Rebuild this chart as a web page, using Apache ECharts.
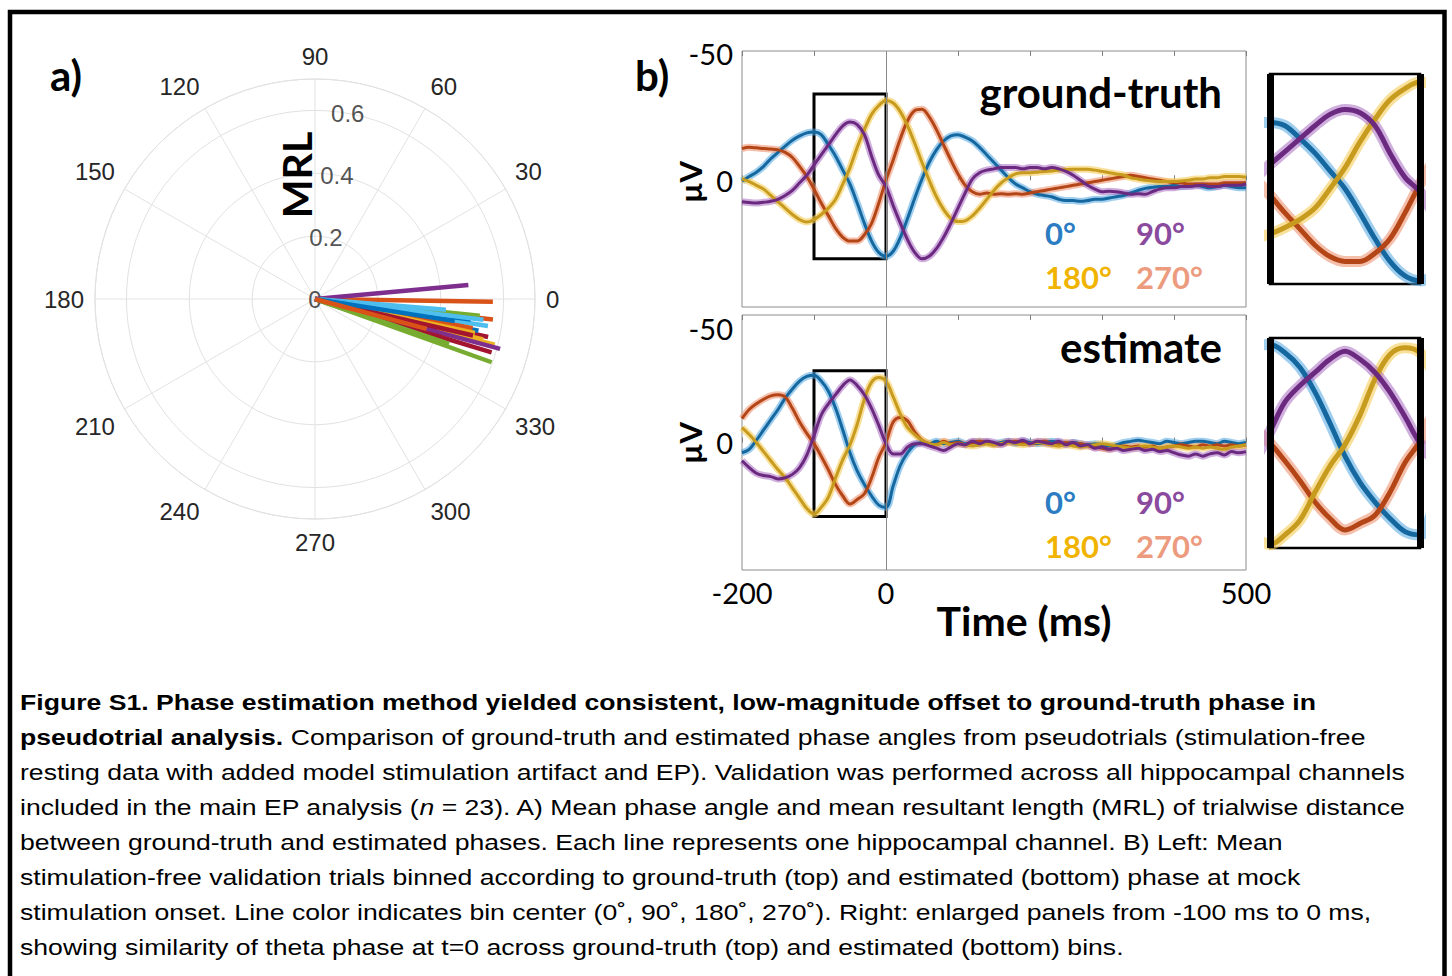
<!DOCTYPE html>
<html><head><meta charset="utf-8">
<script src="https://cdn.jsdelivr.net/npm/echarts@6/dist/echarts.min.js"></script>
<style>html,body{margin:0;padding:0;background:#fff;} #c{width:1452px;height:976px;}</style>
</head><body><div id="c"></div>
<script>
// ---------- DATA ----------
// Panel a: polar (angle in degrees, MRL)
const angleTicks = [0,30,60,90,120,150,180,210,240,270,300,330];
const radialTickValues = [0, 0.2, 0.4, 0.6];
const radialTickLabels = ['0', '0.2', '0.4', '0.6'];
const channelAngleDeg = [350.4, 359.1, 345.7, 5.2, 340.3, 351.1, 347.6, 349.0, 353.4, 346.5, 344.9, 354.2, 355.3, 343.2, 352.5, 349.5, 348.0, 345.2, 341.5, 353.0, 347.0, 351.0, 345.0];
const channelMRL      = [0.48, 0.566, 0.59, 0.49, 0.597, 0.557, 0.564, 0.53, 0.57, 0.55, 0.61, 0.527, 0.418, 0.587, 0.50, 0.51, 0.52, 0.40, 0.45, 0.54, 0.516, 0.45, 0.368];

// Panel b: time (ms) and voltage (µV) per phase bin
const timeMs = [-200,-190,-180,-170,-160,-150,-140,-130,-120,-110,-100,-90,-80,-70,-60,-50,-40,-30,-20,-10,0,
  10,20,30,40,50,60,70,80,90,100,110,120,130,140,150,160,170,180,190,200,
  210,220,230,240,250,260,270,280,290,300,310,320,330,340,350,360,370,380,390,400,
  410,420,430,440,450,460,470,480,490,500];
const xTickLabels = [-200, 0, 500];
const yTickLabels = [-50, 0];
const binLabels = ['0°', '90°', '180°', '270°'];

// ground-truth bins
const gt0   = [0.3,-1.5,-3.2,-5.5,-8.5,-11,-13.5,-15.8,-17.5,-18.7,-19, -18,-14,-9.5,-4,1.5,9,17,24,28.5,30,
  28,22.5,15,7,-0.5,-7,-12,-15.5,-17.5,-18, -17,-15.5,-13,-10,-7,-4,-1,1.5,3,4.5,
  5.5,6,6.5,7.5,8,8,8.3,8,7.5,7.5, 7,6.5,6,5,4,3.2,2.8,2.5,2.5,2, 2.5,2.2,1.8,2.5,3,2.5,2,2.5,3,3];
const gt90  = [8.5,8.8,9,8.7,8.3,7.5,6,4,1,-2,-6, -10,-14,-18,-21.5,-23,-22,-18,-9.5,-2,2.5,
  10,17,23.5,28.5,31,30,27,22.5,17,11, 5,-0.5,-3,-4,-4.5,-5,-5,-5,-4.5,-5,
  -5,-4.5,-5,-4.5,-3.5,-2,0,2,3.5,4.5, 4.3,4.5,5,5.5,5.3,5.5,4.5,3.5,3,3, 2.5,2.5,2.2,2,2.5,2.5,2,2,2,1.5];
const gt180 = [-0.5,0.5,2,3.5,6,8.5,11,13.5,15.5,16.5,15.5, 13.5,11,7.5,1.5,-5,-13,-20,-26,-29.5,-31.5,
  -30.5,-27,-21.5,-14.5,-7,0,6.5,11.5,15,16.3, 16,14,11,7.5,4,1,-1,-2.5,-3,-3,
  -3.2,-3.5,-3.7,-4,-4.2,-4.3,-4.3,-4.3,-4,-3.5, -3,-2.5,-2,-1,-0.5,0,0.3,0.5,0.5,0.5, 0.3,0,-0.5,-0.5,-1,-1,-1.5,-1.5,-1.5,-1.2];
const gt270 = [-12.5,-13,-12.8,-12.5,-12.3,-12,-11,-9,-5.5,-1.5,3.5, 9,14,19,22.5,24,24,21.5,17,9,0,
  -8,-16.5,-23.5,-27.5,-28,-25,-20,-14,-8,-2.5, 2,4.5,5.5,5,5.5,5.3,5.5,5.3,5.5,5,
  4.5,4,3.5,3,2.5,2,1.5,1,0.5,0, -0.5,-1,-1.5,-2,-1.5,-1,-0.5,0,0.5,1, 1,1.5,1.5,1.5,1.5,1.5,1,1,1,1];

// estimated bins
const est0   = [4.5,3,-1,-5.5,-10,-14.5,-19.5,-23.5,-27,-29,-29.5, -27,-22.5,-15,-5.5,4.5,12.5,18.5,23.5,27.5,28.5,
  19,10,4.5,1,0,0.5,-0.5,0.5,0,-0.5, 0.5,0,-0.5,0,0.5,0,-0.5,0.5,-0.5,0,
  0.5,0,-0.5,0,0.5,0,0.5,1,0.5,1, 1.5,1,0,-0.5,-1,-0.5,0,0.5,-0.5,0, 0.5,0,-0.5,-0.5,0,0.5,-0.5,0,0.5,0];
const est90  = [8,11,13.5,14.5,15,16,15.5,14,11,5.5,-3, -12,-17,-21,-25,-27.5,-25,-21,-15,-7.5,0.5,
  5,5,2,0.5,0.5,1.5,2.5,3.5,2,0.5, 1,-0.5,0.5,-0.5,0,1,-0.5,0,-1,0.5,
  -0.5,0,0.5,-0.5,1,0,1.5,1,2.5,2, 3,2.5,3.5,3,2.5,3.5,3,4,3.5,4.5, 5.5,6,5,6,5,4.5,5.5,4,4.5,4];
const est180 = [-6.5,-3.5,0,4,8,12,15.5,20,24.5,29,31.5, 28.5,24,15.5,7.5,1,-8,-19,-26.5,-28.5,-27,
  -20,-12.5,-6.5,-3.5,-1,0.5,1,0,1,0.5, 1,1.5,1,0.5,1,0.5,0,0.5,1,0.5,
  0,0.5,1,1.5,1,1.5,2,1.5,1,0.5, 1,1.5,2,2.5,2,1.5,2,2.5,2,1.5, 2,2.5,2,2.5,2,2.5,3,2,1.5,1];
const est270 = [-10.5,-14.5,-17,-19,-20.5,-21,-20,-15,-9,-4,0.5, 6,12,18.5,23.5,27,25,22.5,15.5,6.5,0,
  -9,-11,-9.5,-4.5,-1,0.5,1,-0.5,0.5,0, 1,0,-0.5,0,1,0.5,0,-0.5,0,0.5,
  0,-0.5,0.5,1,0,0.5,0.5,1.5,2,2.5, 3,2,1.5,2,1.5,2,1.5,2.5,2,1.5, 1,1.5,2,1,1.5,1,1.5,1,1.5,1];

// zoom window (-100..0 ms) and its µV extent for each panel
const zoomWindow = [-100, 0];
const gtBoxUV  = [-34, 31];
const estBoxUV = [-31.5, 32.5];
const gtYRange  = [-51, 50];
const estYRange = [-56, 56];

// ---------- STYLE ----------
const matlabColors = ['#0072BD','#D95319','#EDB120','#7E2F8E','#77AC30','#4DBEEE','#A2142F'];
const coreColors = ['#15689f', '#6b2a80', '#c79b1e', '#b44516'];
const bandColors = ['rgba(80,165,225,0.55)', 'rgba(170,110,195,0.55)', 'rgba(245,205,90,0.6)', 'rgba(238,150,115,0.6)'];
const legendColors = ['#2b7cc2', '#8a4a9e', '#f0b400', '#ec9b7e'];
const gray = '#e2e2e2';

const chart = echarts.init(document.getElementById('c'), null, {renderer: 'svg'});

const gtSets  = [gt0, gt90, gt180, gt270];
const estSets = [est0, est90, est180, est270];
const drawOrder = [0, 3, 2, 1]; // blue, red, yellow, purple

const series = [];
// polar lines
channelAngleDeg.forEach((a, i) => {
  series.push({type:'line', coordinateSystem:'polar', polarIndex:0, symbol:'none', silent:true,
    data:[[0, a], [channelMRL[i], a]],
    lineStyle:{width:4.5, color: matlabColors[i % 7], cap:'butt'}, z:3});
});
series.push({type:'scatter', coordinateSystem:'polar', polarIndex:0, symbolSize:1, silent:true,
  itemStyle:{color:'rgba(0,0,0,0)'},
  data: radialTickValues.map(v => [v, 80]),
  label:{show:true, position:'inside', formatter: p => radialTickLabels[p.dataIndex],
    fontFamily:'Liberation Sans', fontSize:24, color:'#262626'}, z:2});

function addPanel(sets, xMain, yMain, xIn, yIn, box, bandW, coreW, bandWIn, coreWIn) {
  drawOrder.forEach((k, j) => {
    const d = timeMs.map((t, i) => [t, sets[k][i]]);
    series.push({type:'line', xAxisIndex:xMain, yAxisIndex:yMain, data:d, symbol:'none', smooth:0.35, silent:true,
      lineStyle:{width:bandW, color:bandColors[k]}, z:2});
    const core = {type:'line', xAxisIndex:xMain, yAxisIndex:yMain, data:d, symbol:'none', smooth:0.35, silent:true,
      lineStyle:{width:coreW, color:coreColors[k]}, z:3};
    if (j === 0) {
      core.markLine = {silent:true, symbol:['none','none'], label:{show:false},
        lineStyle:{color:'#8a8a8a', width:1, type:'solid'}, data:[{xAxis:0}]};
    }
    if (j === drawOrder.length - 1) {
      core.markArea = {silent:true, itemStyle:{color:'rgba(0,0,0,0)', borderColor:'#000', borderWidth:3},
        data:[[{xAxis:zoomWindow[0], yAxis:box[0]}, {xAxis:zoomWindow[1], yAxis:box[1]}]]};
    }
    series.push(core);
    series.push({type:'line', xAxisIndex:xIn, yAxisIndex:yIn, data:d, symbol:'none', smooth:0.35, silent:true,
      lineStyle:{width:bandWIn, color:bandColors[k]}, z:2});
    const coreIn = {type:'line', xAxisIndex:xIn, yAxisIndex:yIn, data:d, symbol:'none', smooth:0.35, silent:true,
      lineStyle:{width:coreWIn, color:coreColors[k]}, z:3};
    if (j === drawOrder.length - 1) {
      coreIn.markLine = {silent:true, symbol:['none','none'], label:{show:false}, z:10,
        lineStyle:{color:'#000', width:7, type:'solid'}, data:[{xAxis:zoomWindow[0]}, {xAxis:zoomWindow[1]}]};
    }
    series.push(coreIn);
  });
}

const axisFont = {fontFamily:'Lato', fontSize:29, color:'#000'};
function mainX(grid, pos, labels) {
  return {type:'value', gridIndex:grid, position:pos, min:-200, max:500, interval:100,
    axisLine:{show:false}, splitLine:{show:false},
    axisTick:{show:true, inside:true, length:5, lineStyle:{color:'#7f7f7f'}},
    axisLabel: labels ? Object.assign({show:true, margin:8, customValues:xTickLabels}, axisFont) : {show:false}};
}
function mainY(grid, range) {
  return {type:'value', gridIndex:grid, inverse:true, min:range[0], max:range[1],
    axisLine:{show:false}, splitLine:{show:false}, axisTick:{show:false},
    axisLabel:Object.assign({show:true, margin:9, customValues:yTickLabels}, axisFont)};
}
function insetX(grid) {
  return {type:'value', gridIndex:grid, min:zoomWindow[0], max:zoomWindow[1], show:false};
}
function insetY(grid, box) {
  return {type:'value', gridIndex:grid, inverse:true, min:box[0], max:box[1], show:false};
}

// axes: grids 0 main-gt, 1 inset-gt, 2 main-est, 3 inset-est
const xAxes = [mainX(0,'bottom',false), mainX(0,'top',false), insetX(1), mainX(2,'bottom',true), mainX(2,'top',false), insetX(3)];
const yAxes = [mainY(0, gtYRange), insetY(1, gtBoxUV), mainY(2, estYRange), insetY(3, estBoxUV)];

addPanel(gtSets, 0, 0, 2, 1, gtBoxUV, 7, 3, 11, 5);
addPanel(estSets, 3, 2, 5, 3, estBoxUV, 7, 3, 11, 5);

const boldFont = (s) => ({fontFamily:'Lato', fontWeight:'bold', fontSize:s});
function txt(text, x, y, opts) {
  return Object.assign({type:'text', x:x, y:y, silent:true, z:20,
    style:Object.assign({text:text, fill:'#000', align:'left', verticalAlign:'middle'}, opts.style || {})},
    opts.el || {});
}

const captionLines = [
  '{b|Figure S1. Phase estimation method yielded consistent, low-magnitude offset to ground-truth phase in}',
  '{b|pseudotrial analysis.}{n| Comparison of ground-truth and estimated phase angles from pseudotrials (stimulation-free}',
  '{n|resting data with added model stimulation artifact and EP). Validation was performed across all hippocampal channels}',
  '{n|included in the main EP analysis (}{i|n}{n| = 23). A) Mean phase angle and mean resultant length (MRL) of trialwise distance}',
  '{n|between ground-truth and estimated phases. Each line represents one hippocampal channel. B) Left: Mean}',
  '{n|stimulation-free validation trials binned according to ground-truth (top) and estimated (bottom) phase at mock}',
  '{n|stimulation onset. Line color indicates bin center (0˚, 90˚, 180˚, 270˚). Right: enlarged panels from -100 ms to 0 ms,}',
  '{n|showing similarity of theta phase at t=0 across ground-truth (top) and estimated (bottom) bins.}'
];
const capFS = 22.5;
const capRich = {
  b:{fontFamily:'Liberation Sans', fontWeight:'bold', fontSize:capFS, fill:'#000'},
  n:{fontFamily:'Liberation Sans', fontWeight:'normal', fontSize:capFS, fill:'#000'},
  i:{fontFamily:'Liberation Sans', fontStyle:'italic', fontSize:capFS, fill:'#000'}
};

const graphics = [
  {type:'rect', silent:true, z:30, shape:{x:10, y:12, width:1434.5, height:1000},
    style:{fill:null, stroke:'#000', lineWidth:4.5}},
  txt('a)', 50, 75, {style:boldFont(42)}),
  txt('b)', 635, 75, {style:boldFont(42)}),
  txt('MRL', 296, 175, {style:Object.assign({align:'center'}, boldFont(41)), el:{rotation:Math.PI/2}}),
  txt('µV', 690, 182, {style:Object.assign({align:'center'}, boldFont(31)), el:{rotation:Math.PI/2}}),
  txt('µV', 690, 443, {style:Object.assign({align:'center'}, boldFont(31)), el:{rotation:Math.PI/2}}),
  txt('ground-truth', 1222, 92, {style:Object.assign({align:'right'}, boldFont(42))}),
  txt('estimate', 1222, 347, {style:Object.assign({align:'right'}, boldFont(42))}),
  txt('Time (ms)', 1024, 620, {style:Object.assign({align:'center'}, boldFont(41))}),
];
const legendPos = [[1045, 0], [1136, 0], [1045, 1], [1136, 1]];
[[233, 277], [502, 546]].forEach(rows => {
  binLabels.forEach((lab, k) => {
    graphics.push(txt(lab, legendPos[k][0], rows[legendPos[k][1]], {style:Object.assign({fill:legendColors[k]}, boldFont(31))}));
  });
});
captionLines.forEach((line, i) => {
  graphics.push({type:'text', x:20, y:702 + 35*i, scaleX:1.183, silent:true, z:20,
    style:{text:line, rich:capRich, fontFamily:'Liberation Sans', fontSize:capFS, fill:'#000', verticalAlign:'middle', align:'left'}});
});

chart.setOption({
  animation:false,
  backgroundColor:'#fff',
  polar:{center:[315, 299], radius:220},
  angleAxis:{type:'value', polarIndex:0, min:0, max:360, interval:30, startAngle:0, clockwise:false,
    axisLine:{show:true, lineStyle:{color:gray, width:1}}, axisTick:{show:false},
    splitLine:{show:true, lineStyle:{color:gray, width:1}},
    axisLabel:{show:true, margin:11, fontFamily:'Liberation Sans', fontSize:24, color:'#262626',
      formatter: v => (angleTicks.indexOf(v) >= 0 ? String(v) : '')}},
  radiusAxis:{type:'value', polarIndex:0, min:0, max:0.7, interval:0.2,
    axisLine:{show:false}, axisTick:{show:false}, axisLabel:{show:false},
    splitLine:{show:true, lineStyle:{color:gray, width:1}}},
  grid:[
    {left:742, top:51, width:504, height:256, show:true, borderColor:'#8c8c8c', borderWidth:1, backgroundColor:'transparent'},
    {left:1270, top:74, width:150, height:210, show:true, borderColor:'#000', borderWidth:2.5, backgroundColor:'transparent'},
    {left:742, top:315, width:504, height:255, show:true, borderColor:'#8c8c8c', borderWidth:1, backgroundColor:'transparent'},
    {left:1270, top:338, width:150, height:210, show:true, borderColor:'#000', borderWidth:2.5, backgroundColor:'transparent'}
  ],
  xAxis:xAxes,
  yAxis:yAxes,
  series:series,
  graphic:graphics
});
</script></body></html>
